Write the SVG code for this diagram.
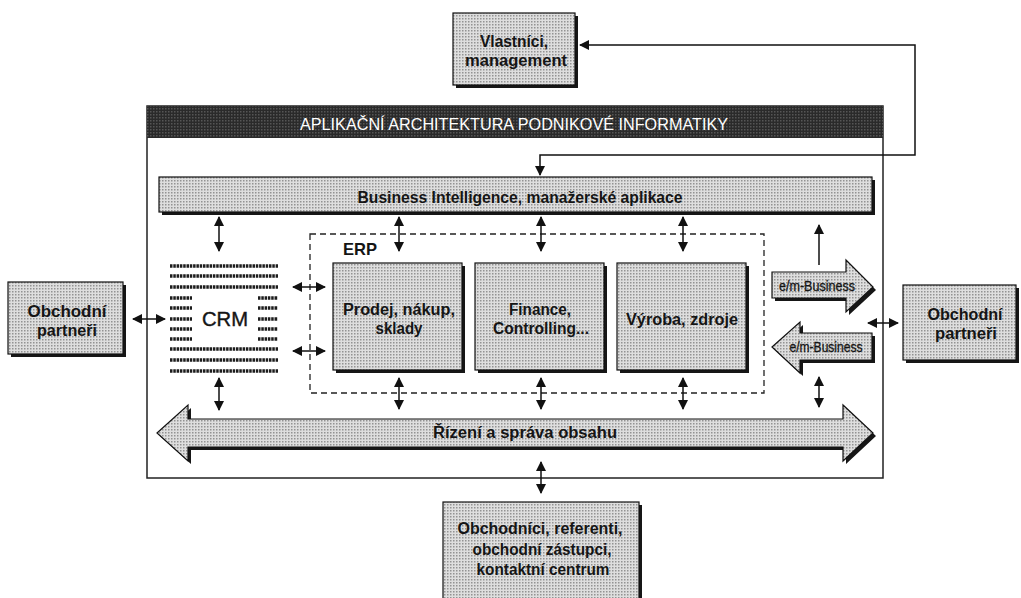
<svg xmlns="http://www.w3.org/2000/svg" width="1021" height="598" viewBox="0 0 1021 598">
  <defs>
    <!-- halftone fill used by all shaded blocks -->
    <pattern id="tone" width="3" height="3" patternUnits="userSpaceOnUse">
      <rect width="3" height="3" fill="#dedede"/>
      <rect width="1.5" height="1.5" fill="#939393"/>
    </pattern>
    <pattern id="darktone" width="3" height="3" patternUnits="userSpaceOnUse">
      <rect width="3" height="3" fill="#2a2a2a"/>
      <rect width="1.5" height="1.5" fill="#555"/>
    </pattern>
    <marker id="head" viewBox="0 0 10 10" refX="9" refY="5" markerWidth="10" markerHeight="10" markerUnits="userSpaceOnUse" orient="auto-start-reverse">
      <path d="M0,0 L10,5 L0,10 Z" fill="#111"/>
    </marker>
    <style>
      .box { fill: url(#tone); stroke: #111; stroke-width: 1.2; }
      .shadow { fill: #161616; }
      .lbl { font-family: "Liberation Sans", Arial, sans-serif; font-weight: bold; fill: #151515; text-anchor: middle; }
      .conn { fill: none; stroke: #111; stroke-width: 1.5; }
      .dbl { marker-start: url(#head); marker-end: url(#head); }
      .stripe { stroke: #1c1c1c; stroke-width: 3.6; stroke-dasharray: 2.5 0.8; }
    </style>
  </defs>

  <rect width="1021" height="598" fill="#fff"/>

  <!-- main frame with title bar -->
  <g id="frame">
    <rect x="147" y="106" width="736" height="372" fill="none" stroke="#222" stroke-width="1.5"/>
    <rect x="147" y="106" width="736" height="32" fill="url(#darktone)"/>
    <text x="514" y="130" font-family="Liberation Sans, Arial, sans-serif" font-size="17" fill="#fff" text-anchor="middle" textLength="428" lengthAdjust="spacingAndGlyphs">APLIKAČNÍ ARCHITEKTURA PODNIKOVÉ INFORMATIKY</text>
  </g>

  <!-- owners / management -->
  <g id="vlastnici">
    <rect class="shadow" x="456" y="16" width="122" height="72"/>
    <rect class="box" x="453" y="13" width="122" height="72"/>
    <text class="lbl" x="514" y="47" font-size="16" textLength="68" lengthAdjust="spacingAndGlyphs">Vlastníci,</text>
    <text class="lbl" x="516" y="66" font-size="16" textLength="102" lengthAdjust="spacingAndGlyphs">management</text>
  </g>

  <!-- business intelligence bar -->
  <g id="bi">
    <rect class="shadow" x="162" y="180" width="713" height="35"/>
    <rect class="box" x="159" y="177" width="713" height="35"/>
    <text class="lbl" x="520" y="203" font-size="16" textLength="325" lengthAdjust="spacingAndGlyphs">Business Intelligence, manažerské aplikace</text>
  </g>

  <!-- CRM block -->
  <g id="crm">
    <g class="stripe">
      <line x1="170" y1="266" x2="278" y2="266"/>
      <line x1="170" y1="276" x2="278" y2="276"/>
      <line x1="170" y1="287" x2="278" y2="287"/>
      <line x1="170" y1="298" x2="192" y2="298"/>
      <line x1="258" y1="298" x2="278" y2="298"/>
      <line x1="170" y1="308" x2="192" y2="308"/>
      <line x1="258" y1="308" x2="278" y2="308"/>
      <line x1="170" y1="319" x2="192" y2="319"/>
      <line x1="258" y1="319" x2="278" y2="319"/>
      <line x1="170" y1="329" x2="192" y2="329"/>
      <line x1="258" y1="329" x2="278" y2="329"/>
      <line x1="170" y1="339" x2="192" y2="339"/>
      <line x1="258" y1="339" x2="278" y2="339"/>
      <line x1="170" y1="349" x2="278" y2="349"/>
      <line x1="170" y1="360" x2="278" y2="360"/>
      <line x1="170" y1="371" x2="278" y2="371"/>
    </g>
    <text x="225" y="326" font-family="Liberation Sans, Arial, sans-serif" font-size="20" fill="#151515" stroke="#151515" stroke-width="0.4" text-anchor="middle" textLength="46" lengthAdjust="spacingAndGlyphs">CRM</text>
  </g>

  <!-- ERP group -->
  <g id="erp">
    <rect x="310" y="234" width="454" height="159" fill="none" stroke="#222" stroke-width="1.3" stroke-dasharray="6 4"/>
    <text class="lbl" x="360" y="255" font-size="17" textLength="34" lengthAdjust="spacingAndGlyphs">ERP</text>
  </g>

  <g id="prodej">
    <rect class="shadow" x="336" y="266" width="129" height="107"/>
    <rect class="box" x="333" y="263" width="129" height="107"/>
    <text class="lbl" x="399" y="315" font-size="16" textLength="112" lengthAdjust="spacingAndGlyphs">Prodej, nákup,</text>
    <text class="lbl" x="399" y="334" font-size="16" textLength="47" lengthAdjust="spacingAndGlyphs">sklady</text>
  </g>

  <g id="finance">
    <rect class="shadow" x="478" y="266" width="129" height="107"/>
    <rect class="box" x="475" y="263" width="129" height="107"/>
    <text class="lbl" x="540" y="315" font-size="16" textLength="62" lengthAdjust="spacingAndGlyphs">Finance,</text>
    <text class="lbl" x="541" y="334" font-size="16" textLength="96" lengthAdjust="spacingAndGlyphs">Controlling...</text>
  </g>

  <g id="vyroba">
    <rect class="shadow" x="620" y="266" width="129" height="107"/>
    <rect class="box" x="617" y="263" width="129" height="107"/>
    <text class="lbl" x="682" y="325" font-size="16" textLength="112" lengthAdjust="spacingAndGlyphs">Výroba, zdroje</text>
  </g>

  <!-- e/m-Business outgoing -->
  <g id="ebiz-out">
    <path class="shadow" d="M775,275 L849,275 L849,263 L876,290 L849,315 L849,301 L775,301 Z"/>
    <path class="box" d="M772,272 L846,272 L846,260 L873,287 L846,312 L846,298 L772,298 Z"/>
    <text x="817" y="291" font-family="Liberation Sans, Arial, sans-serif" font-size="14" fill="#151515" stroke="#151515" stroke-width="0.3" text-anchor="middle" textLength="76" lengthAdjust="spacingAndGlyphs">e/m-Business</text>
  </g>

  <!-- e/m-Business incoming -->
  <g id="ebiz-in">
    <path class="shadow" d="M775,350 L803,325 L803,336 L875,336 L875,363 L803,363 L803,376 Z"/>
    <path class="box" d="M772,347 L800,322 L800,333 L872,333 L872,360 L800,360 L800,373 Z"/>
    <text x="826" y="352" font-family="Liberation Sans, Arial, sans-serif" font-size="14" fill="#151515" stroke="#151515" stroke-width="0.3" text-anchor="middle" textLength="73" lengthAdjust="spacingAndGlyphs">e/m-Business</text>
  </g>

  <!-- content management double arrow -->
  <g id="obsah">
    <path class="shadow" d="M160,436 L191,408 L191,422 L846,422 L846,408 L876,436 L846,464 L846,450 L191,450 L191,464 Z"/>
    <path class="box" d="M157,433 L188,405 L188,419 L843,419 L843,405 L873,433 L843,461 L843,447 L188,447 L188,461 Z"/>
    <text class="lbl" x="525" y="438" font-size="16" textLength="184" lengthAdjust="spacingAndGlyphs">Řízení a správa obsahu</text>
  </g>

  <!-- external partners -->
  <g id="partneri-left">
    <rect class="shadow" x="11" y="285" width="115" height="72"/>
    <rect class="box" x="8" y="282" width="115" height="72"/>
    <text class="lbl" x="67" y="317" font-size="16" textLength="79" lengthAdjust="spacingAndGlyphs">Obchodní</text>
    <text class="lbl" x="67" y="336" font-size="16" textLength="60" lengthAdjust="spacingAndGlyphs">partneři</text>
  </g>

  <g id="partneri-right">
    <rect class="shadow" x="906" y="288" width="113" height="75"/>
    <rect class="box" x="903" y="285" width="113" height="75"/>
    <text class="lbl" x="965" y="320" font-size="16" textLength="75" lengthAdjust="spacingAndGlyphs">Obchodní</text>
    <text class="lbl" x="966" y="339" font-size="16" textLength="62" lengthAdjust="spacingAndGlyphs">partneři</text>
  </g>

  <!-- sales staff -->
  <g id="obchodnici">
    <rect class="shadow" x="446" y="505" width="196" height="96"/>
    <rect class="box" x="443" y="502" width="196" height="100"/>
    <text class="lbl" x="540" y="534" font-size="16" textLength="165" lengthAdjust="spacingAndGlyphs">Obchodníci, referenti,</text>
    <text class="lbl" x="542" y="555" font-size="16" textLength="139" lengthAdjust="spacingAndGlyphs">obchodní zástupci,</text>
    <text class="lbl" x="543" y="575" font-size="16" textLength="133" lengthAdjust="spacingAndGlyphs">kontaktní centrum</text>
  </g>

  <!-- connectors -->
  <g id="connectors" class="conn">
    <polyline class="dbl" points="540,175 540,155 915,155 915,45 580,45"/>
    <line class="dbl" x1="219" y1="217" x2="219" y2="251"/>
    <line class="dbl" x1="399" y1="217" x2="399" y2="251"/>
    <line class="dbl" x1="541" y1="217" x2="541" y2="251"/>
    <line class="dbl" x1="683" y1="217" x2="683" y2="251"/>
    <line class="dbl" x1="219" y1="378" x2="219" y2="410"/>
    <line class="dbl" x1="399" y1="378" x2="399" y2="409"/>
    <line class="dbl" x1="541" y1="378" x2="541" y2="409"/>
    <line class="dbl" x1="683" y1="378" x2="683" y2="409"/>
    <line x1="819" y1="265" x2="819" y2="225" marker-end="url(#head)"/>
    <line class="dbl" x1="819" y1="377" x2="819" y2="407"/>
    <line class="dbl" x1="293" y1="287" x2="325" y2="287"/>
    <line class="dbl" x1="293" y1="351" x2="325" y2="351"/>
    <line class="dbl" x1="133" y1="319" x2="165" y2="319"/>
    <line class="dbl" x1="868" y1="323" x2="898" y2="323"/>
    <line class="dbl" x1="541" y1="462" x2="541" y2="493"/>
  </g>
</svg>
